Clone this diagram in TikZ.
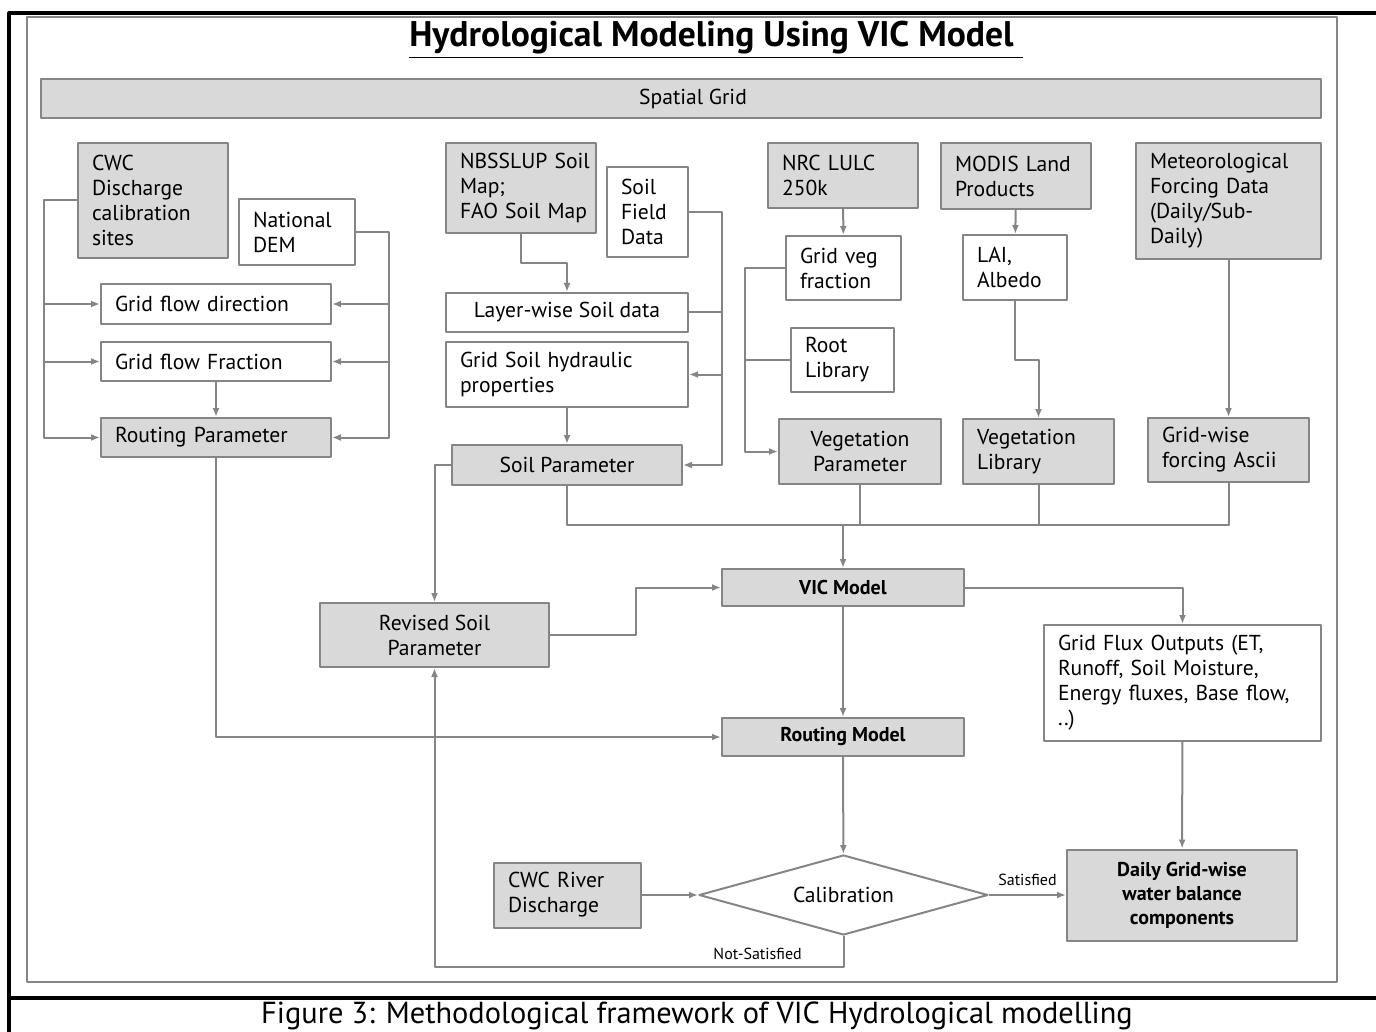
\documentclass[tikz,border=0pt]{standalone}
\usepackage{fontspec}
\setmainfont{PT Sans}
\usetikzlibrary{arrows.meta,shapes.geometric}
\definecolor{boxfill}{HTML}{D9D9D9}
\definecolor{linegray}{HTML}{858585}
\begin{document}
\begin{tikzpicture}[x=0.5pt,y=-0.5pt,>={Latex[length=4.5pt,width=3.5pt]},
	font=\fontsize{10.8}{12.5}\selectfont, line join=round,
	every node/.style={inner sep=0pt},
	wbox/.style={draw=linegray,line width=1pt,fill=white,align=left},
	gbox/.style={wbox,fill=boxfill},
	flow/.style={draw=linegray,line width=1pt},
	tag/.style={font=\fontsize{8}{9}\selectfont}]
	\useasboundingbox (0,0) rectangle (1376,1032);
	% frames and texts
	\draw[line width=1.6pt] (9,1032) -- (9,13) -- (1376,13) (9,998) -- (1376,998);
	\draw[linegray,line width=1.2pt] (27,17) rectangle (1337,982);
	\node[anchor=base] (title) at (716,47) {\fontsize{17.8}{20}\selectfont\bfseries\underline{Hydrological Modeling Using VIC Model\ }};
	\node (caption) at (697,1016) {\fontsize{15.2}{18}\selectfont Figure 3: Methodological framework of VIC Hydrological modelling};
	\node[gbox,align=center,minimum width=640pt,minimum height=19.5pt] (grid) at (681,98.5) {\hspace*{12pt}Spatial Grid};
	% routing inputs
	\node[gbox,minimum width=75pt,minimum height=57.5pt,text width=61pt] (cwc) at (153,200.5) {CWC\\Discharge\\calibration\\sites};
	\node[wbox,minimum width=58pt,minimum height=33pt,text width=44pt] (dem) at (297,232) {National\\DEM};
	\node[wbox,minimum width=115pt,minimum height=20pt,text width=101pt] (gfd) at (216,304) {Grid flow direction};
	\node[wbox,minimum width=115pt,minimum height=19.5pt,text width=101pt] (gff) at (216,361.5) {Grid flow Fraction};
	\node[gbox,minimum width=115pt,minimum height=19.5pt,text width=101pt] (rpar) at (216,437.5) {Routing Parameter};
	% soil inputs
	\node[gbox,minimum width=75pt,minimum height=45pt,text width=61pt] (nbss) at (521,188) {NBSSLUP~Soil\\Map;\\FAO~Soil~Map};
	\node[wbox,minimum width=40.5pt,minimum height=45pt,text width=26.5pt] (sfd) at (647.5,212) {Soil\\Field\\Data};
	\node[wbox,align=center,minimum width=121pt,minimum height=19.5pt] (lws) at (567,312.5) {Layer-wise Soil data};
	\node[wbox,minimum width=121pt,minimum height=32.5pt,text width=107pt] (gsh) at (567,374.5) {Grid Soil hydraulic\\properties};
	\node[gbox,align=center,minimum width=115pt,minimum height=20pt] (spar) at (567,465) {Soil Parameter};
	% vegetation inputs
	\node[gbox,minimum width=75pt,minimum height=32.5pt,text width=61pt] (nrc) at (843,175.5) {NRC LULC\\250k};
	\node[wbox,minimum width=57.5pt,minimum height=32pt,text width=43.5pt] (gvf) at (843.5,268) {Grid veg\\fraction};
	\node[wbox,minimum width=51.5pt,minimum height=32pt,text width=37.5pt] (root) at (842.5,360) {Root\\Library};
	\node[gbox,align=center,minimum width=81pt,minimum height=32.5pt] (vpar) at (860,451.5) {Vegetation\\Parameter};
	\node[gbox,minimum width=75pt,minimum height=33pt,text width=61pt] (modis) at (1016,176) {MODIS Land\\Products};
	\node[wbox,minimum width=52pt,minimum height=32.5pt,text width=38pt] (lai) at (1015,267.5) {LAI,\\Albedo};
	\node[gbox,minimum width=75.5pt,minimum height=32.5pt,text width=61.5pt] (vlib) at (1038.5,451.5) {Vegetation\\Library};
	% forcing
	\node[gbox,minimum width=92.5pt,minimum height=58pt,text width=78.5pt] (met) at (1228.5,201) {Meteorological\\Forcing Data\\(Daily/Sub-\\Daily)};
	\node[gbox,minimum width=80.5pt,minimum height=32pt,text width=66.5pt] (gwf) at (1228.5,450) {Grid-wise\\forcing Ascii};
	% model chain
	\node[gbox,align=center,minimum width=121pt,minimum height=18.5pt,font=\bfseries] (vic) at (843,587.5) {VIC Model};
	\node[gbox,align=center,minimum width=114.5pt,minimum height=32pt] (rsp) at (434.5,635) {Revised Soil\\Parameter};
	\node[gbox,align=center,minimum width=121pt,minimum height=19pt,font=\bfseries] (rmod) at (843,737) {Routing Model};
	\node[wbox,minimum width=138.5pt,minimum height=58pt,text width=124.5pt] (flux) at (1182.5,683) {Grid Flux Outputs (ET,\\Runoff, Soil Moisture,\\Energy fluxes, Base flow,\\..)};
	\node[wbox,diamond,aspect=3.6,align=center,minimum width=144.5pt,minimum height=40pt] (cal) at (843.5,895) {Calibration};
	\node[gbox,minimum width=73.5pt,minimum height=32.5pt,text width=59.5pt] (cwcr) at (567.5,895) {CWC River\\Discharge};
	\node[gbox,align=center,minimum width=115pt,minimum height=45.5pt,font=\bfseries] (daily) at (1182,895) {Daily Grid-wise\\water balance\\components};
	% routing connectors
	\path (44,0) coordinate (lbus) (389,0) coordinate (rbus) (722,0) coordinate (sbus) (745,0) coordinate (vbus) (843,525) coordinate (join);
	\draw[flow,->] (cwc.west) -| (lbus |- rpar.west) -- (rpar.west);
	\draw[flow,->] (dem.east) -| (rbus |- rpar.east) -- (rpar.east);
	\foreach \n in {gfd,gff}{
		\draw[flow,->] (lbus |- \n.west) -- (\n.west);
		\draw[flow,->] (rbus |- \n.east) -- (\n.east);}
	\draw[flow,->] (gff) -- (rpar);
	\draw[flow,->] (rpar.south) |- (rmod.west);
	% soil connectors
	\draw[flow,->] (nbss.south) -- ++(0,29) -| (lws.north);
	\draw[flow,->] (sfd.east) -| (sbus |- spar.east) -- (spar.east);
	\draw[flow] (lws.east) -- (sbus |- lws.east);
	\draw[flow,->] (sbus |- gsh.east) -- (gsh.east);
	\draw[flow,->] (gsh) -- (spar);
	\draw[flow,->] (spar.west) -| (rsp.north);
	% vegetation and forcing connectors
	\draw[flow,->] (nrc) -- (gvf);
	\draw[flow,->] (gvf.west) -| (vbus |- vpar.west) -- (vpar.west);
	\draw[flow] (root.west) -- (vbus |- root.west);
	\draw[flow,->] (modis) -- (lai);
	\draw[flow,->] (lai.south) -- ++(0,59) -| (vlib.north);
	\draw[flow,->] (met) -- (gwf);
	\draw[flow] (spar.south) |- (gwf.south |- join) -- (gwf.south);
	\foreach \n in {vpar,vlib}
	\draw[flow] (\n.south) -- (\n.south |- join);
	\draw[flow,->] (join) -- (vic.north);
	% model connectors
	\draw[flow,->] (rsp.east) -- ++(86,0) |- (vic.west);
	\draw[flow,->] (vic.east) -| (flux.north);
	\draw[flow,->] (vic) -- (rmod);
	\draw[flow,->] (flux) -- (daily);
	\draw[flow,->] (rmod) -- (cal);
	\draw[flow,->] (cwcr) -- (cal);
	\draw[flow,->] (cal) -- node[above=4pt,tag]{Satisfied} (daily);
	\draw[flow,->] (cal.south) -- ++(0,31) -| node[pos=0.105,above=3pt,tag]{Not-Satisfied} (rsp.south);
\end{tikzpicture}
\end{document}
